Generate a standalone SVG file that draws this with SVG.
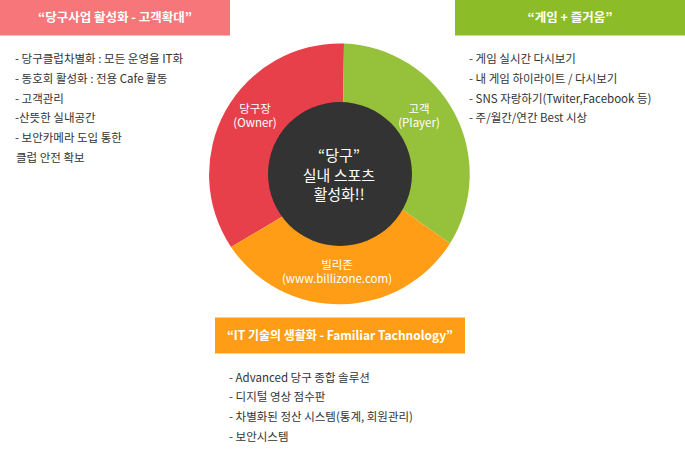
<svg xmlns="http://www.w3.org/2000/svg" width="685" height="460" viewBox="0 0 685 460">
<style>
text{font-family:"Noto Sans CJK KR","Noto Sans",sans-serif}
.hd{font-size:12.5px;font-weight:bold;fill:#fff;text-anchor:middle}
.li{font-size:11.5px;fill:#333}
.lb{font-size:11.5px;fill:#fff;text-anchor:middle}
.ct{font-size:15px;fill:#fff;text-anchor:middle}
</style>
<rect width="685" height="460" fill="#fff"/>
<g id="header-left">
<rect x="0" y="0" width="230" height="35.5" fill="#f7767a"/>
<text class="hd" x="115" y="22">“당구사업 활성화 - 고객확대”</text>
</g>
<g id="list-left">
<text class="li" x="15" y="63" textLength="168" lengthAdjust="spacingAndGlyphs">- 당구클럽차별화 : 모든 운영을 IT화</text>
<text class="li" x="15" y="83">- 동호회 활성화 : 전용 Cafe 활동</text>
<text class="li" x="15" y="102.5">- 고객관리</text>
<text class="li" x="15" y="122">-산뜻한 실내공간</text>
<text class="li" x="15" y="142">- 보안카메라 도입 통한</text>
<text class="li" x="16" y="161.5">클럽 안전 확보</text>
</g>
<g id="header-right">
<rect x="455" y="0" width="230" height="35.5" fill="#8cbd29"/>
<text class="hd" x="570" y="22">“게임 + 즐거움”</text>
</g>
<g id="list-right">
<text class="li" x="469" y="62.5">- 게임 실시간 다시보기</text>
<text class="li" x="469" y="82.5">- 내 게임 하이라이트 / 다시보기</text>
<text class="li" x="469" y="102.5">- SNS 자랑하기(Twiter,Facebook 등)</text>
<text class="li" x="469" y="122">- 주/월간/연간 Best 시상</text>
</g>
<g id="seg-owner">
<path d="M342,180 L280,218 L231,247 A131 131 0 0 1 344,43.5 Z" fill="#e8404a"/>
<text class="lb" x="255" y="112.5">당구장</text>
<text class="lb" x="255" y="127">(Owner)</text>
</g>
<g id="seg-player">
<path d="M342,180 L344,43.5 A131 131 0 0 1 450,243.5 L403,210 Z" fill="#96c13a"/>
<text class="lb" x="419" y="112.5">고객</text>
<text class="lb" x="419" y="127">(Player)</text>
</g>
<g id="seg-billizone">
<path d="M342,180 L403,210 L450,243.5 A131 131 0 0 1 231,247 L280,218 Z" fill="#ff9e16"/>
<text class="lb" x="337" y="268.5">빌리존</text>
<text class="lb" x="337" y="283">(www.billizone.com)</text>
</g>
<g id="center">
<circle cx="340" cy="174" r="72" fill="#333333"/>
<text class="ct" x="339" y="161">“당구”</text>
<text class="ct" x="339" y="180.5">실내 스포츠</text>
<text class="ct" x="339" y="200">활성화!!</text>
</g>
<g id="header-bottom">
<rect x="215" y="317.5" width="250" height="36" fill="#ff9e16"/>
<text class="hd" x="340" y="340" textLength="226" lengthAdjust="spacingAndGlyphs">“IT 기술의 생활화 - Familiar Tachnology”</text>
</g>
<g id="list-bottom">
<text class="li" x="229" y="381.5">- Advanced 당구 종합 솔루션</text>
<text class="li" x="229" y="401">- 디지털 영상 점수판</text>
<text class="li" x="229" y="420.5">- 차별화된 정산 시스템(통계, 회원관리)</text>
<text class="li" x="229" y="440.5">- 보안시스템</text>
</g>
<g id="connectors"></g>
</svg>
